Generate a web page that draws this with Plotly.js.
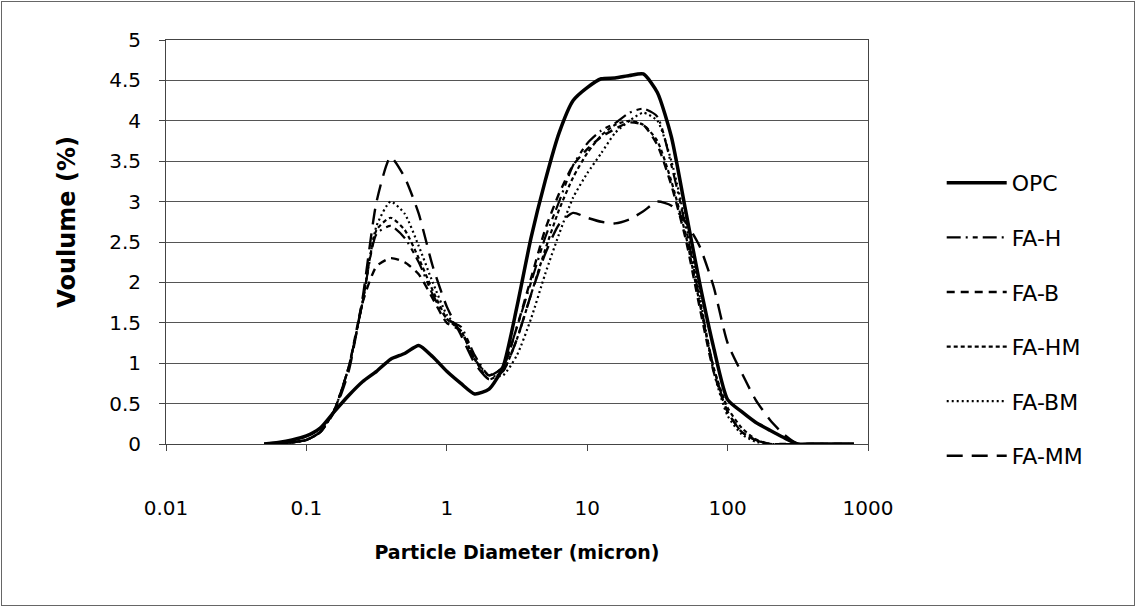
<!DOCTYPE html>
<html>
<head>
<meta charset="utf-8">
<script src="https://cdn.plot.ly/plotly-3.0.1.min.js"></script>
<style>
  html, body { margin: 0; padding: 0; background: #fff; }
  #frame { position: absolute; left: 1px; top: 1px; width: 1132px; height: 603px; border: 1px solid #666; }
  #chart { position: absolute; left: 0; top: 0; width: 1136px; height: 613px; }
</style>
</head>
<body>
<div id="frame"></div>
<div id="chart"></div>
<script>
// Particle diameter (micron), shared grid
const diameter = [0.05, 0.063, 0.079, 0.1, 0.126, 0.158, 0.2, 0.251, 0.316, 0.398, 0.501, 0.631, 0.794,
  1.0, 1.26, 1.58, 2.0, 2.51, 3.16, 3.98, 5.01, 6.31, 7.94, 10, 12.6, 15.8, 20, 25.1, 31.6, 39.8, 50.1,
  63.1, 79.4, 100, 126, 158, 200, 251, 316, 398, 501, 631, 794];

const opc  = [0, 0.02, 0.05, 0.1, 0.2, 0.4, 0.6, 0.77, 0.9, 1.05, 1.12, 1.22, 1.08,
  0.9, 0.75, 0.62, 0.68, 0.95, 1.7, 2.55, 3.25, 3.85, 4.25, 4.41, 4.52, 4.53, 4.56, 4.58, 4.35, 3.8, 2.9,
  2.0, 1.2, 0.55, 0.4, 0.27, 0.17, 0.08, 0, 0, 0, 0, 0];

const faH  = [0, 0, 0.02, 0.05, 0.15, 0.42, 0.95, 1.75, 2.6, 2.7, 2.55, 2.25, 1.85,
  1.55, 1.45, 1.1, 0.85, 0.95, 1.45, 2.0, 2.55, 3.0, 3.45, 3.72, 3.88, 3.97, 4.1, 4.15, 4.05, 3.45, 2.7,
  1.8, 0.95, 0.4, 0.15, 0.05, 0, 0, 0, 0, 0, 0, 0];

const faB  = [0, 0, 0.02, 0.05, 0.15, 0.42, 0.95, 1.75, 2.2, 2.3, 2.25, 2.1, 1.8,
  1.5, 1.4, 1.05, 0.85, 0.95, 1.45, 2.05, 2.65, 3.1, 3.45, 3.65, 3.8, 3.9, 3.98, 3.95, 3.7, 3.2, 2.55,
  1.7, 0.9, 0.4, 0.15, 0.05, 0, 0, 0, 0, 0, 0, 0];

const faHM = [0, 0, 0.02, 0.05, 0.15, 0.42, 0.95, 1.75, 2.65, 2.8, 2.65, 2.3, 1.9,
  1.55, 1.4, 1.05, 0.8, 0.9, 1.3, 1.85, 2.4, 2.9, 3.3, 3.6, 3.82, 3.95, 4.0, 3.95, 3.75, 3.25, 2.6,
  1.75, 0.95, 0.45, 0.2, 0.06, 0, 0, 0, 0, 0, 0, 0];

const faBM = [0, 0, 0.02, 0.05, 0.15, 0.42, 0.95, 1.75, 2.7, 3.0, 2.85, 2.45, 2.0,
  1.6, 1.4, 1.05, 0.85, 0.85, 1.1, 1.55, 2.1, 2.6, 3.05, 3.35, 3.6, 3.85, 4.0, 4.1, 4.0, 3.5, 2.75,
  1.85, 0.9, 0.35, 0.12, 0.03, 0, 0, 0, 0, 0, 0, 0];

const faMM = [0, 0, 0.02, 0.05, 0.15, 0.4, 0.9, 1.8, 3.0, 3.55, 3.3, 2.85, 2.2,
  1.7, 1.35, 1.0, 0.8, 0.9, 1.3, 1.85, 2.35, 2.72, 2.86, 2.8, 2.75, 2.73, 2.78, 2.88, 3.0, 2.95, 2.75,
  2.45, 1.95, 1.25, 0.88, 0.55, 0.3, 0.12, 0, 0, 0, 0, 0];

const seriesNames = ['OPC', 'FA-H', 'FA-B', 'FA-HM', 'FA-BM', 'FA-MM'];
const seriesData = [opc, faH, faB, faHM, faBM, faMM];
const xTickVals = [0.01, 0.1, 1, 10, 100, 1000];
const xTickText = ['0.01', '0.1', '1', '10', '100', '1000'];

const dashes = ['solid', '14px,5px,2px,5px,5px,5px', '8px,6px', '4px,3px', '2px,3px', '16px,9px'];
const widths = [3.5, 2.2, 2.4, 2.2, 2.2, 2.4];

const traces = seriesNames.map((name, i) => ({
  type: 'scatter', mode: 'lines', name: name,
  x: diameter, y: seriesData[i],
  legendgroup: 'g' + i,
  line: { color: '#000', width: widths[i], dash: dashes[i], shape: 'spline', smoothing: 0.6 }
}));

const font = '"DejaVu Sans", "Open Sans", sans-serif';

const layout = {
  width: 1136, height: 613,
  paper_bgcolor: 'rgba(0,0,0,0)', plot_bgcolor: '#fff',
  margin: { l: 166, r: 268, t: 40, b: 169 },
  font: { family: font, color: '#000', size: 20 },
  showlegend: true,
  legend: {
    x: 1.105, xanchor: 'left', y: 0.698, yanchor: 'top',
    font: { size: 22, family: font, color: '#000' },
    tracegroupgap: 23, itemwidth: 60, bgcolor: 'rgba(0,0,0,0)'
  },
  annotations: [{
    text: '<b>Voulume (%)</b>', textangle: -90,
    xref: 'paper', yref: 'paper', x: -0.141, y: 0.55,
    xanchor: 'center', yanchor: 'middle', showarrow: false,
    font: { size: 24, family: font, color: '#000' }
  }],
  xaxis: {
    type: 'log', range: [-2, 3],
    tickvals: xTickVals, ticktext: xTickText,
    ticks: 'outside', ticklen: 6, tickcolor: '#444',
    ticklabelstandoff: 40,
    showgrid: false, zeroline: false,
    showline: true, linecolor: '#444', linewidth: 1, mirror: true,
    tickfont: { size: 20, family: font, color: '#000' },
    title: { text: '<b>Particle Diameter (micron)</b>', font: { size: 19, family: font, color: '#000' }, standoff: 26 }
  },
  yaxis: {
    range: [0, 5], dtick: 0.5,
    ticks: 'outside', ticklen: 6, tickcolor: '#444',
    ticklabelstandoff: 14,
    showgrid: true, gridcolor: '#555', gridwidth: 1,
    zeroline: false,
    showline: true, linecolor: '#444', linewidth: 1, mirror: true,
    tickfont: { size: 20, family: font, color: '#000' }
  }
};

Plotly.newPlot('chart', traces, layout, { staticPlot: true, displayModeBar: false });
</script>
</body>
</html>
